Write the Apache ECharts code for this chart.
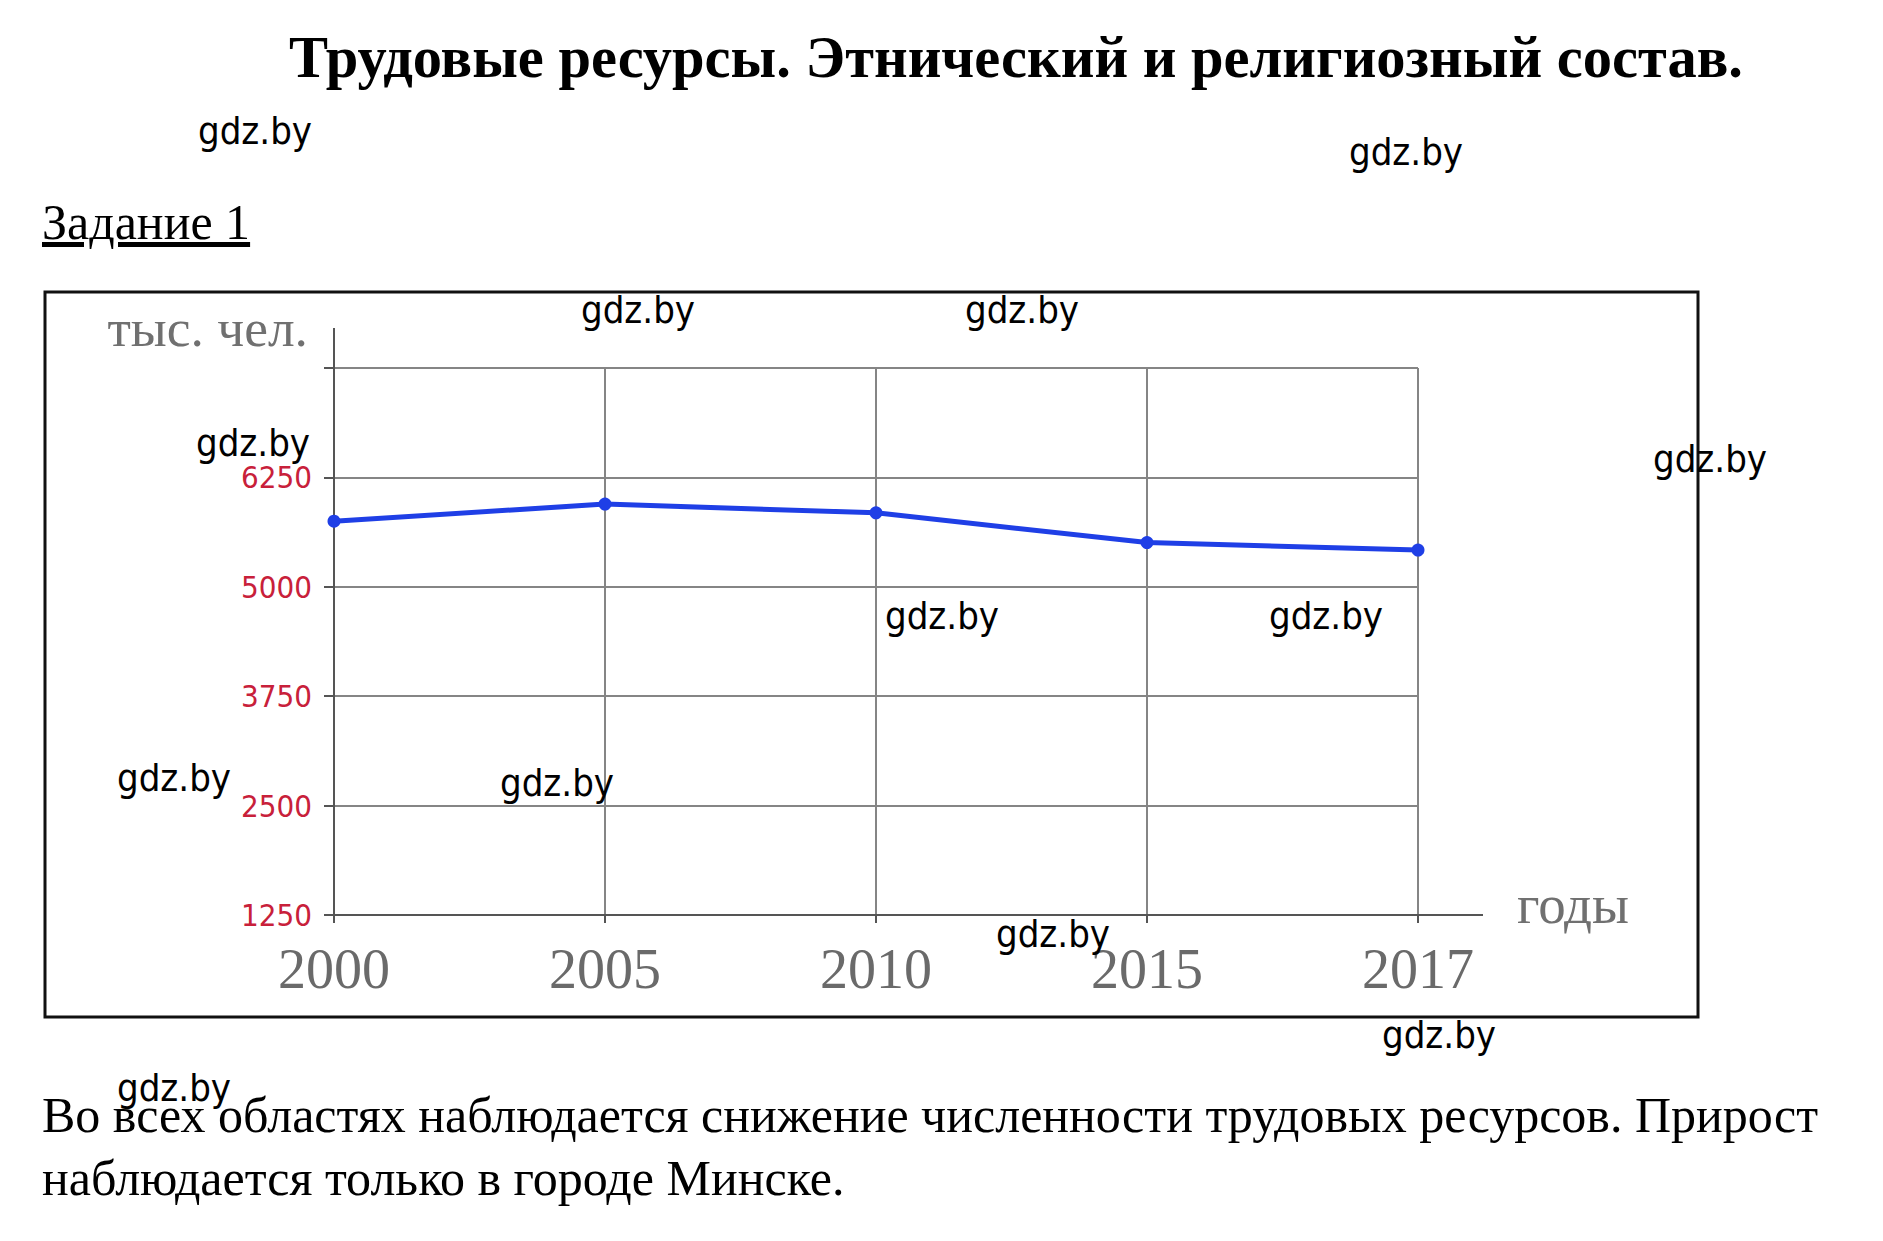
<!DOCTYPE html>
<html lang="ru">
<head>
<meta charset="utf-8">
<title>Трудовые ресурсы</title>
<script src="https://cdn.jsdelivr.net/npm/echarts@6/dist/echarts.min.js"></script>
<style>
  html, body { margin: 0; padding: 0; background: #ffffff; }
  #page { position: relative; width: 1883px; height: 1241px; overflow: hidden; background: #fff; }
  #chart { position: absolute; left: 0; top: 0; width: 1883px; height: 1241px; }
  #overlay { position: absolute; left: 0; top: 0; width: 1883px; height: 1241px; pointer-events: none; }
</style>
</head>
<body>
<div id="page">
  <div id="chart"></div>
  <svg id="overlay" width="1883" height="1241" xmlns="http://www.w3.org/2000/svg">
    <rect x="45" y="292" width="1653" height="725" fill="none" stroke="#111" stroke-width="3"/>
    <text x="1016" y="77" text-anchor="middle" font-family="Liberation Serif, Times New Roman, serif" font-weight="bold" font-size="58.5" fill="#000">Трудовые ресурсы. Этнический и религиозный состав.</text>
    <text x="42" y="239" font-family="Liberation Serif, Times New Roman, serif" font-size="50" fill="#000" text-decoration="underline">Задание 1</text>
    <text x="42" y="1132" font-family="Liberation Serif, Times New Roman, serif" font-size="50" fill="#000">Во всех областях наблюдается снижение численности трудовых ресурсов. Прирост</text>
    <text x="42" y="1195" font-family="Liberation Serif, Times New Roman, serif" font-size="50" fill="#000">наблюдается только в городе Минске.</text>
    <g id="wm" font-family="DejaVu Sans Condensed, DejaVu Sans, sans-serif" font-size="38" fill="#000" text-anchor="middle"></g>
  </svg>
</div>
<script>
// ---- data ----
const years = ['2000', '2005', '2010', '2015', '2017'];
const laborResources = [5750, 5945, 5845, 5505, 5420]; // тыс. чел.
const yMin = 1250;
const yMax = 7500;
const yInterval = 1250;
const yTickLabels = ['1250', '2500', '3750', '5000', '6250'];
const yAxisName = 'тыс. чел.';
const xAxisName = 'годы';
const watermarkText = 'gdz.by';
const watermarkSpots = [
  [255, 144], [1406, 165], [638, 323], [1022, 323], [253, 456], [1710, 472],
  [942, 629], [1326, 629], [174, 791], [557, 796], [1053, 947], [1439, 1048], [174, 1101]
];

// watermarks
const wm = document.getElementById('wm');
watermarkSpots.forEach(function (p) {
  const t = document.createElementNS('http://www.w3.org/2000/svg', 'text');
  t.setAttribute('x', p[0]);
  t.setAttribute('y', p[1]);
  t.textContent = watermarkText;
  wm.appendChild(t);
});

const chart = echarts.init(document.getElementById('chart'), null, { renderer: 'svg' });
const gridColor = '#858585';
const axisColor = '#555555';
chart.setOption({
  backgroundColor: 'transparent',
  animation: false,
  grid: { left: 334, right: 465, top: 368, bottom: 326, containLabel: false },
  xAxis: {
    type: 'category',
    data: years,
    boundaryGap: false,
    name: xAxisName,
    nameLocation: 'end',
    nameGap: 99,
    nameTextStyle: { fontFamily: 'Liberation Serif, serif', fontSize: 55, color: '#707070', align: 'left', verticalAlign: 'bottom', lineHeight: 22 },
    axisLine: { show: true, lineStyle: { color: axisColor, width: 2 }, symbol: ['none', 'rect'], symbolSize: [2, 130] },
    axisTick: { show: true, length: 8, lineStyle: { color: axisColor, width: 2 } },
    axisLabel: { fontFamily: 'Liberation Serif, serif', fontSize: 56, color: '#6a6a6a', margin: 26 },
    splitLine: { show: true, lineStyle: { color: gridColor, width: 2 } }
  },
  yAxis: {
    type: 'value',
    min: yMin,
    max: yMax,
    interval: yInterval,
    name: yAxisName,
    nameLocation: 'end',
    nameGap: 40,
    nameTextStyle: { fontFamily: 'Liberation Serif, serif', fontSize: 53.5, color: '#707070', align: 'right', verticalAlign: 'middle', padding: [0, 26, 0, 0] },
    axisLine: { show: true, lineStyle: { color: axisColor, width: 2 }, symbol: ['none', 'rect'], symbolSize: [2, 80] },
    axisTick: { show: true, length: 10, lineStyle: { color: axisColor, width: 2 } },
    axisLabel: {
      fontFamily: 'Liberation Sans Narrow, DejaVu Sans Condensed, sans-serif',
      fontSize: 31,
      color: '#c8203a',
      margin: 22,
      formatter: function (v) {
        const s = String(v);
        return yTickLabels.indexOf(s) >= 0 ? s : '';
      }
    },
    splitLine: { show: true, lineStyle: { color: gridColor, width: 2 } }
  },
  series: [{
    type: 'line',
    data: laborResources,
    symbol: 'circle',
    symbolSize: 13,
    showSymbol: true,
    lineStyle: { color: '#1f3fe6', width: 5 },
    itemStyle: { color: '#1f3fe6' }
  }]
});
</script>
</body>
</html>
